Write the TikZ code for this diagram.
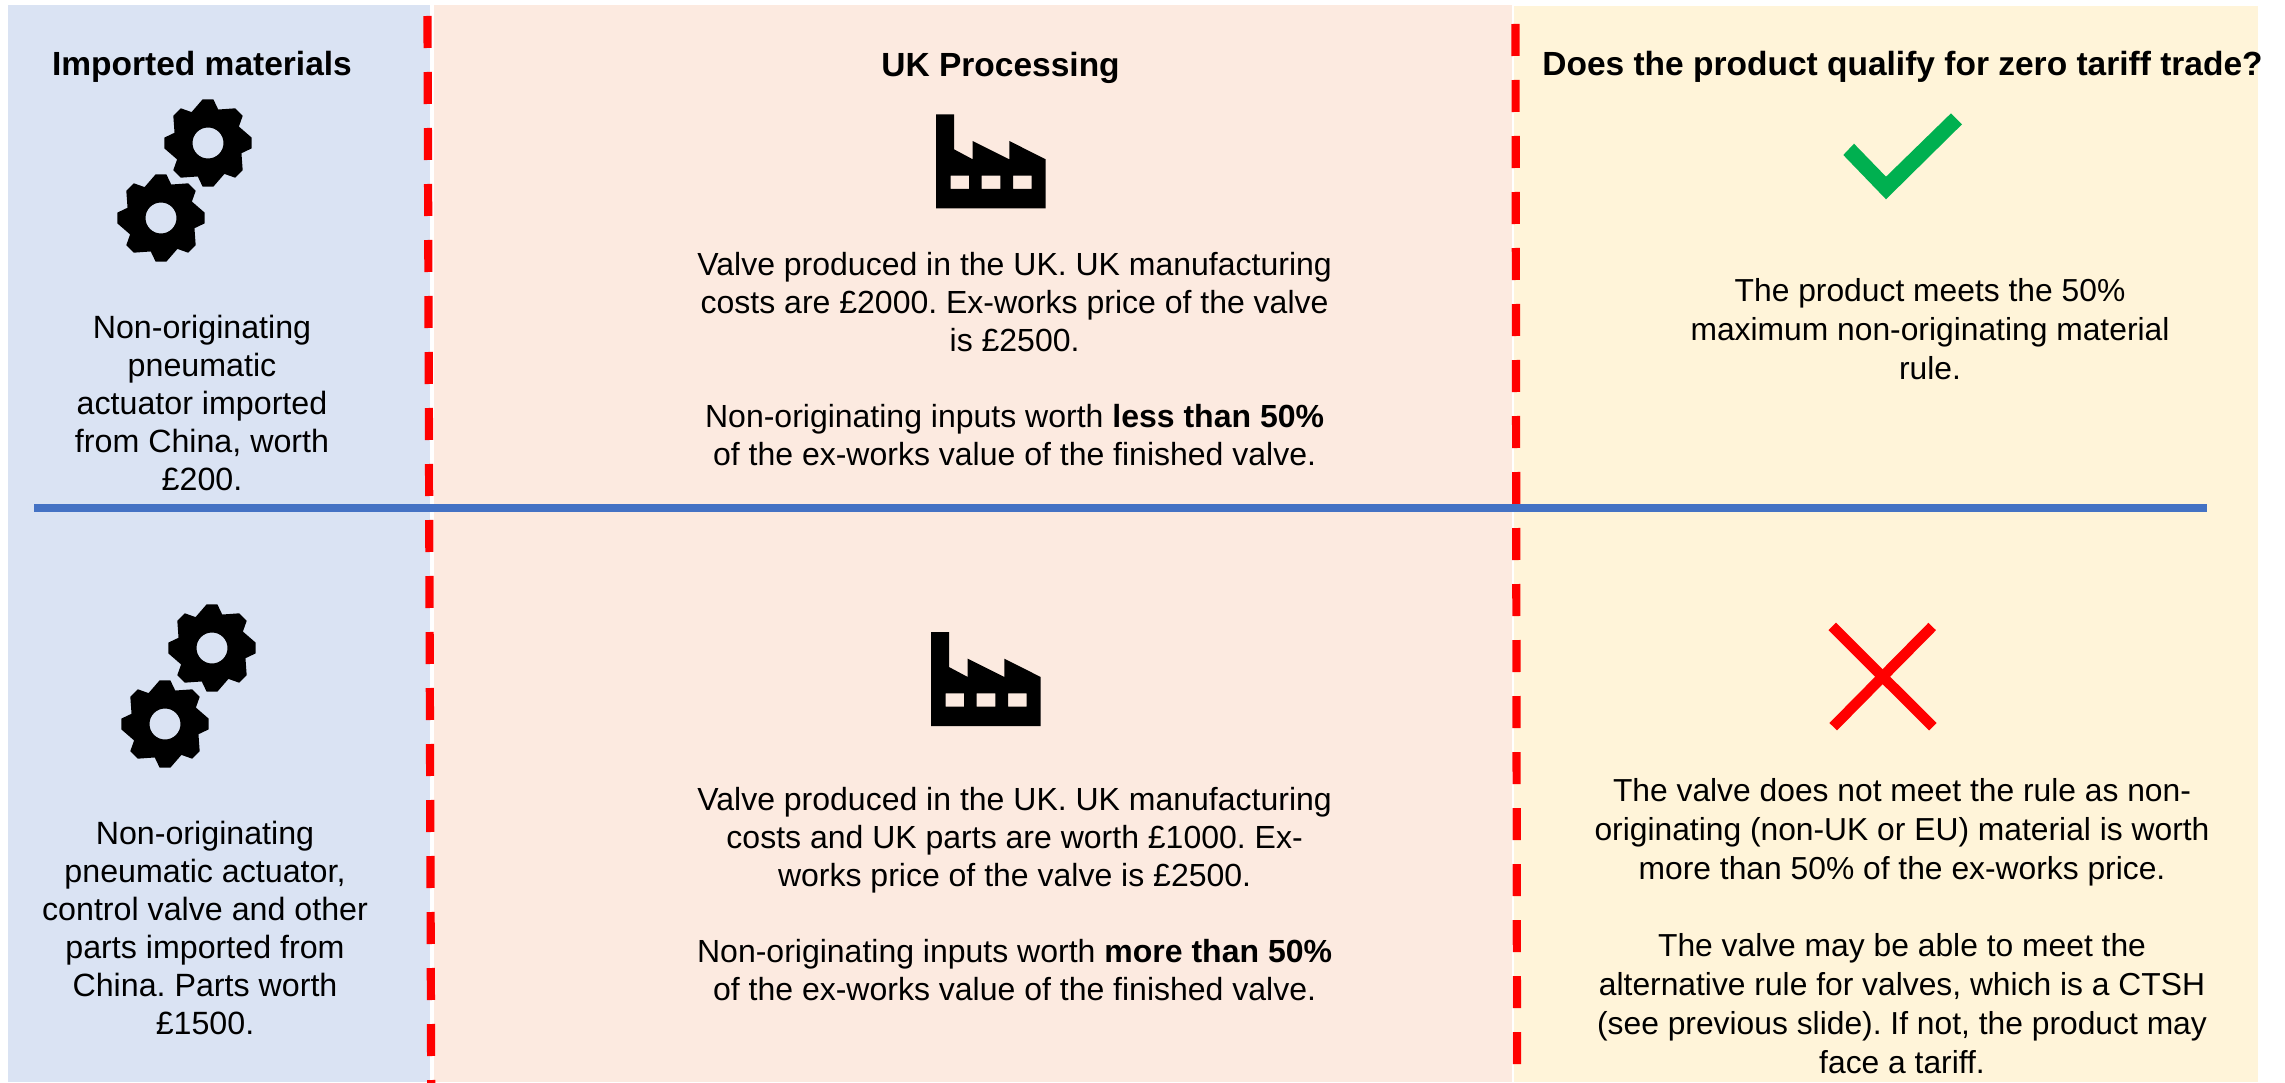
\documentclass[tikz,border=0pt]{standalone}
\usepackage{fontspec}
\setmainfont{Liberation Sans}
\definecolor{panelblue}{HTML}{DAE3F3}
\definecolor{panelsalmon}{HTML}{FCEAE0}
\definecolor{panelyellow}{HTML}{FFF4D9}
\definecolor{ruleblue}{HTML}{4472C4}
\definecolor{okgreen}{HTML}{00B050}
\newcommand{\gearicon}[2]{%
  \fill[black,even odd rule,shift={(#1,#2)}]
    (22.5:34.5)
    \foreach \a in {45,90,...,360} {
      -- (\a-28:35) -- (\a-7:44) -- (\a+7:44) -- (\a+17:35) -- (\a+22.5:34.5)
    } -- cycle (0,0) circle (15.5);
}
\newcommand{\factoryicon}[2]{%
  \fill[black,even odd rule,shift={(#1,#2)}]
    (0,0) -- (18,0) -- (18,35) -- (36.7,45) -- (36.7,26.7) -- (73.3,45) -- (73.3,26.7)
    -- (109.7,45) -- (109.7,94) -- (0,94) -- cycle
    (14.7,61.4) rectangle (33,74.7)
    (45.7,61.4) rectangle (64.3,74.7)
    (77,61.4) rectangle (95.7,74.7);
}
\tikzset{
  x=1pt,y=-1pt,
  body/.style={align=center,inner sep=0pt,font=\fontsize{32.2}{37.9}\selectfont\frenchspacing},
  midbody/.style={align=center,inner sep=0pt,font=\fontsize{32}{37.9}\selectfont\frenchspacing},
  rightbody/.style={align=center,inner sep=0pt,font=\fontsize{31.8}{38.9}\selectfont\frenchspacing},
  heading/.style={align=center,inner sep=0pt,font=\fontsize{33.5}{38}\selectfont\bfseries\frenchspacing},
  redrule/.style={draw=red,line width=8.2pt,dash pattern=on 32pt off 24pt},
  bluerule/.style={draw=ruleblue,line width=8pt},
}
\begin{document}
\begin{tikzpicture}
\useasboundingbox (0,0) rectangle (2285,1083);
% panels
\fill[panelblue] (8,5) rectangle (430,1082);
\fill[panelsalmon] (434,5) rectangle (1512,1082);
\fill[panelyellow] (1514,6) rectangle (2258,1082);
% dividers
\coordinate (ltop) at (427.5,16);
\coordinate (lbot) at (431.2,1083);
\coordinate (rtop) at (1515.5,24);
\coordinate (rbot) at (1517,1064);
\coordinate (bl) at (34,508);
\coordinate (br) at (2206.5,508);
\draw[redrule] (ltop) -- (lbot);
\draw[redrule] (rtop) -- (rbot);
\draw[bluerule] (bl) -- (br);
% headings
\node[heading] (h1) at (202,66.5) {Imported materials};
\node[heading] (h2) at (1000.6,67.5) {UK Processing};
\node[heading] (h3) at (1902.5,66.5) {Does the product qualify for zero tariff trade?};
% icons
\gearicon{208}{143}
\gearicon{161}{218}
\gearicon{212}{648}
\gearicon{165}{724}
\factoryicon{936}{114.3}
\factoryicon{931}{632}
% check and cross
\fill[okgreen] (1843.3,155) -- (1854,143.7) -- (1886,176.7) -- (1951,113.3) -- (1962,124.3) -- (1886,199.3) -- cycle;
\draw[red,line width=10.6pt] (1832.2,626.4) -- (1932.8,726.7);
\draw[red,line width=10.6pt] (1932.2,626.5) -- (1833.2,726.7);
% text
\node[body] (a1) at (202,403) {Non-originating\\pneumatic\\actuator imported\\from China, worth\\£200.};
\node[midbody] (b1) at (1014.6,359) {Valve produced in the UK. UK manufacturing\\costs are £2000. Ex-works price of the valve\\is £2500.\\[37.9pt]Non-originating inputs worth \textbf{less than 50\%}\\of the ex-works value of the finished valve.};
\node[rightbody] (c1) at (1930,329.5) {The product meets the 50\%\\maximum non-originating material\\rule.};
\node[body] (a2) at (205,928) {Non-originating\\pneumatic actuator,\\control valve and other\\parts imported from\\China. Parts worth\\£1500.};
\node[midbody] (b2) at (1014.6,894) {Valve produced in the UK. UK manufacturing\\costs and UK parts are worth £1000. Ex-\\works price of the valve is £2500.\\[37.9pt]Non-originating inputs worth \textbf{more than 50\%}\\of the ex-works value of the finished valve.};
\node[rightbody] (c2) at (1902,926) {The valve does not meet the rule as non-\\originating (non-UK or EU) material is worth\\more than 50\% of the ex-works price.\\[38.9pt]The valve may be able to meet the\\alternative rule for valves, which is a CTSH\\(see previous slide). If not, the product may\\face a tariff.};
\end{tikzpicture}
\end{document}
